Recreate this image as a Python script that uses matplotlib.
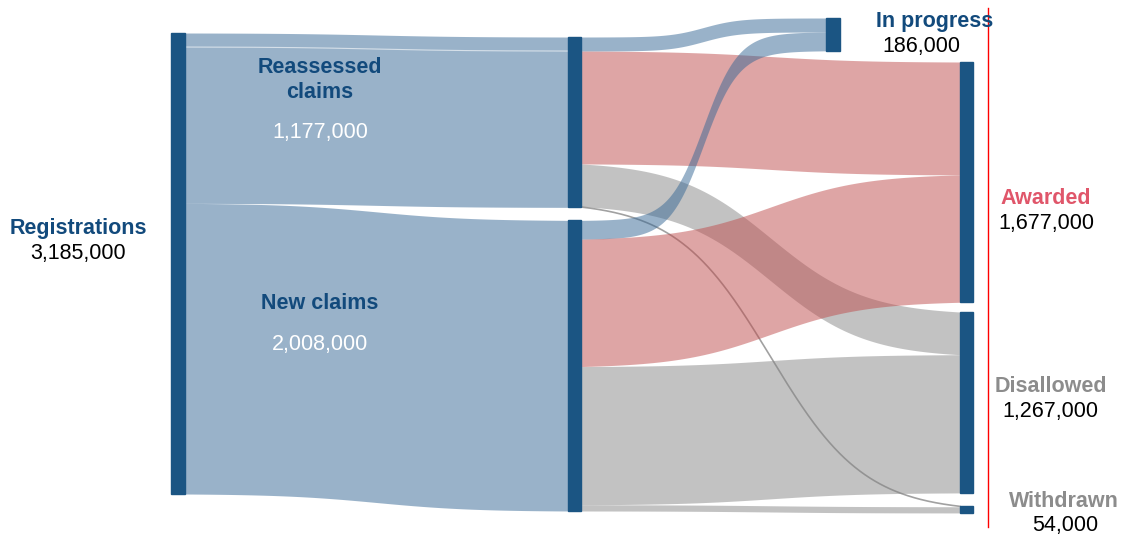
import matplotlib.pyplot as plt
import numpy as np

plt.rcParams['font.family'] = ['Liberation Sans', 'DejaVu Sans']

# --- data -------------------------------------------------------------
middle_nodes = ['Reassessed claims', 'New claims']
middle_totals = [1177000, 2008000]
right_nodes = ['In progress', 'Awarded', 'Disallowed', 'Withdrawn']
right_totals = [186000, 1677000, 1267000, 54000]
registrations_total = 3185000

# flows from each middle node to the right nodes (In progress, Awarded, Disallowed, Withdrawn)
reassessed_to = [97000, 780000, 295000, 5000]
new_to = [130000, 880000, 955000, 43000]

# --- style / layout ---------------------------------------------------
node_color = '#1b5583'
blue_flow = '#356795'
red_flow = '#bf4d4d'
grey_flow = '#878787'
flow_colors = [blue_flow, red_flow, grey_flow, grey_flow]
label_blue = '#124a7c'
label_red = '#e0566a'
label_grey = '#8c8c8c'

px_per_unit = 461.0 / registrations_total

left_x, left_w, left_top = 171, 14, 33
mid_x, mid_w, mid_top, mid_gap = 568, 13, 37, 13
right_x = [826, 960, 960, 960]
right_w = [14, 13, 13, 13]
right_top = [18, 62, 312, 506]


def ease(u, k):
    s = 1 / (1 + np.exp(-k * (u - 0.5)))
    s0 = 1 / (1 + np.exp(k / 2))
    s1 = 1 / (1 + np.exp(-k / 2))
    return (s - s0) / (s1 - s0)


def band(ax, x0, x1, y0, y1, h, color, k=6, alpha=0.5):
    xs = np.linspace(x0, x1, 300)
    e = ease((xs - x0) / (x1 - x0), k)
    top = y0 + (y1 - y0) * e
    if h < 2:
        ax.plot(xs, top + h / 2, color='#8a8a8a', lw=1.2, alpha=0.8, zorder=2)
        return top
    ax.fill_between(xs, top, top + h, color=color, alpha=alpha, lw=0, zorder=2)
    return top


fig = plt.figure(figsize=(11.21, 5.34), dpi=100)
ax = fig.add_axes([0, 0, 1, 1])
ax.set_xlim(0, 1121)
ax.set_ylim(534, 0)
ax.axis('off')

# nodes
ax.add_patch(plt.Rectangle((left_x, left_top), left_w, registrations_total * px_per_unit,
                           color=node_color, zorder=3))
mid_tops = []
y = mid_top
for tot in middle_totals:
    mid_tops.append(y)
    ax.add_patch(plt.Rectangle((mid_x, y), mid_w, tot * px_per_unit, color=node_color, zorder=3))
    y += tot * px_per_unit + mid_gap

right_sums = [a + b for a, b in zip(reassessed_to, new_to)]
for i in range(len(right_nodes)):
    ax.add_patch(plt.Rectangle((right_x[i], right_top[i]), right_w[i], right_sums[i] * px_per_unit,
                               color=node_color, zorder=3))

# registrations -> middle
y_left = left_top
for i, tot in enumerate(middle_totals):
    h = tot * px_per_unit
    band(ax, left_x + left_w, mid_x, y_left, mid_tops[i], h, blue_flow, k=8)
    y_left += h
# faint seam inside the reassessed band
xs = np.linspace(left_x + left_w, mid_x, 200)
seam = left_top + reassessed_to[0] * px_per_unit + \
    (mid_tops[0] - left_top) * ease((xs - left_x - left_w) / (mid_x - left_x - left_w), 8)
ax.plot(xs, seam, color='white', lw=0.8, alpha=0.6, zorder=2)

# middle -> right
right_cursor = list(right_top)
for m, flows in enumerate([reassessed_to, new_to]):
    y_mid = mid_tops[m]
    for i, v in enumerate(flows):
        h = v * px_per_unit
        k = 14 if i == 0 else 8
        band(ax, mid_x + mid_w, right_x[i], y_mid, right_cursor[i], h, flow_colors[i], k=k)
        y_mid += h
        right_cursor[i] += h

ax.plot([988, 988], [8, 527], color='red', lw=1, zorder=4)

# labels
fs = 15.5
bold = dict(fontsize=fs, fontweight='bold', ha='center', va='baseline')
reg = dict(fontsize=fs, ha='center', va='baseline')


def fmt(v):
    return '{:,}'.format(v)


ax.text(78, 234, 'Registrations', color=label_blue, **bold)
ax.text(78, 259, fmt(registrations_total), color='black', **reg)
ax.text(320, 73, 'Reassessed', color=label_blue, zorder=5, **bold)
ax.text(320, 98, 'claims', color=label_blue, zorder=5, **bold)
ax.text(320, 138, fmt(middle_totals[0]), color='white', zorder=5, **reg)
ax.text(320, 309, 'New claims', color=label_blue, zorder=5, **bold)
ax.text(320, 350, fmt(middle_totals[1]), color='white', zorder=5, **reg)

label_pos = [(935, 27, 921, 52), (1046, 204, 1046, 229), (1051, 392, 1050, 417), (1064, 507, 1065, 531)]
label_cols = [label_blue, label_red, label_grey, label_grey]
for i, name in enumerate(right_nodes):
    nx, ny, vx, vy = label_pos[i]
    ax.text(nx, ny, name, color=label_cols[i], zorder=5, **bold)
    ax.text(vx, vy, fmt(right_totals[i]), color='black', zorder=5, **reg)

plt.savefig('out.png', dpi=100)
